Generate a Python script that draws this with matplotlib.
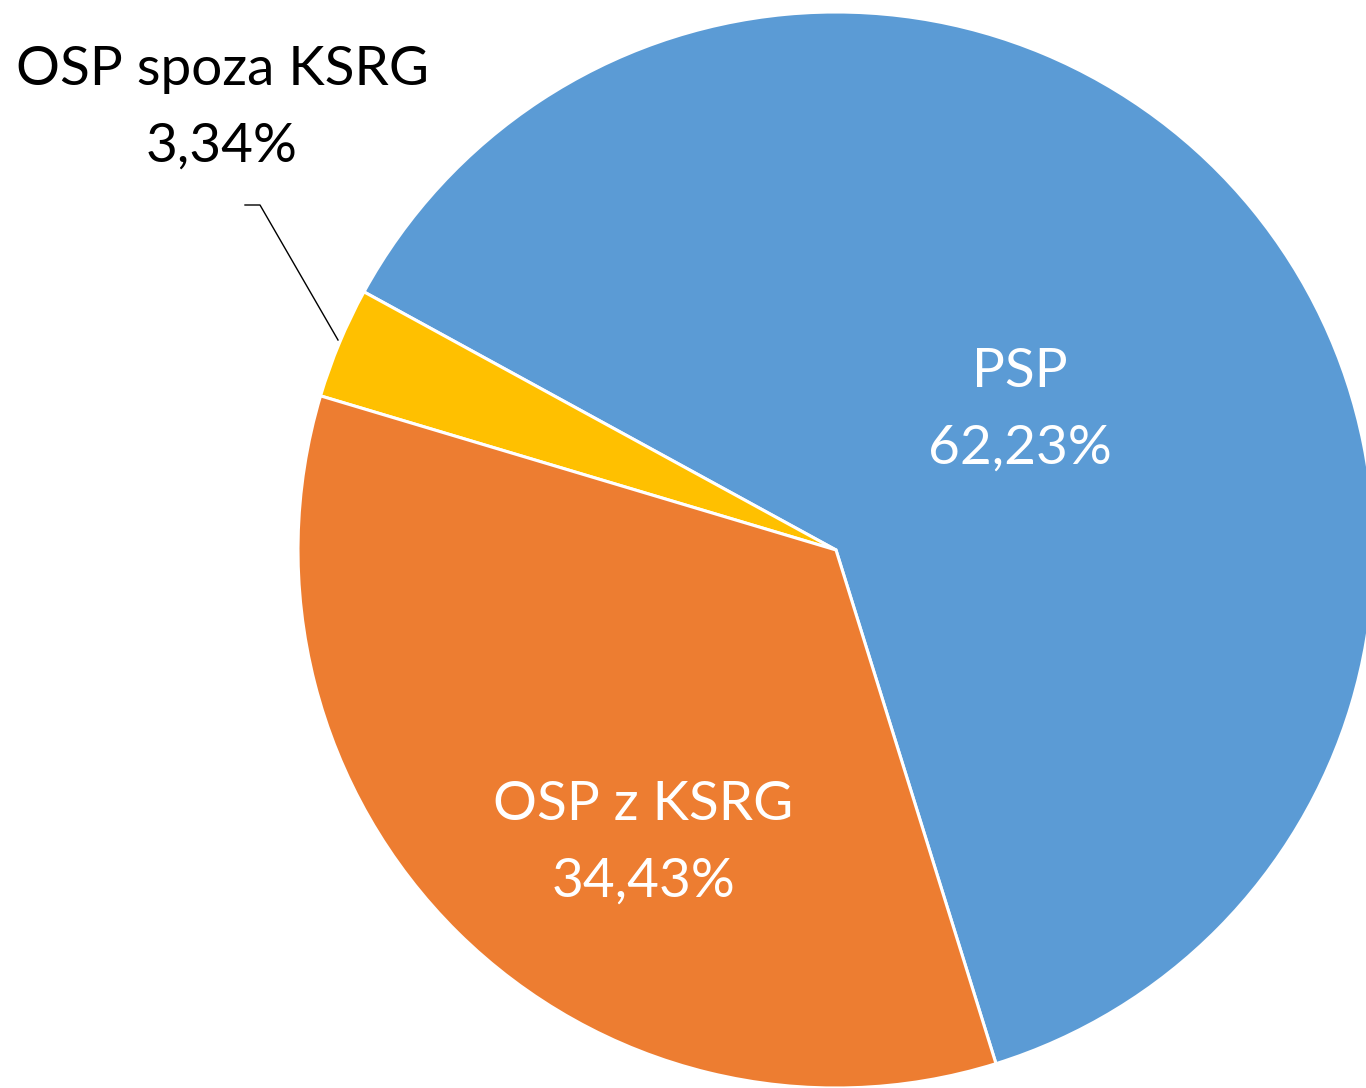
import matplotlib
matplotlib.use("Agg")
import matplotlib.pyplot as plt

labels = ["PSP", "OSP spoza KSRG", "OSP z KSRG"]
values = [62.23, 3.34, 34.43]
colors = ["#5B9BD5", "#FFC000", "#ED7D31"]
value_text = ["62,23%", "3,34%", "34,43%"]

W, H, DPI = 1366, 1088, 100
fig = plt.figure(figsize=(W / DPI, H / DPI), dpi=DPI)
ax = fig.add_axes([0, 0, 1, 1])

R = 538.0
cx, cy = 836.0, 550.0

def px(x, y):
    return ((x - cx) / R, (cy - y) / R)

ax.pie(values, colors=colors, startangle=-72.7, counterclock=True, radius=1.0,
       wedgeprops=dict(edgecolor="white", linewidth=2.2), center=(0, 0))
ax.set_xlim(-cx / R, (W - cx) / R)
ax.set_ylim(-(H - cy) / R, cy / R)
ax.set_aspect("equal")
ax.axis("off")

font = "Lato"
fs = 39.5
ls = 1.68
lx, ly = px(1020, 410)
ax.text(lx, ly, f"{labels[0]}\n{value_text[0]}", ha="center", va="center",
        color="white", fontsize=fs, family=font, linespacing=ls)
lx, ly = px(643, 843)
ax.text(lx, ly, f"{labels[2]}\n{value_text[2]}", ha="center", va="center",
        color="white", fontsize=fs, family=font, linespacing=ls)
lx, ly = px(222, 108)
ax.text(lx, ly, f"{labels[1]}\n{value_text[1]}", ha="center", va="center",
        color="black", fontsize=fs, family=font, linespacing=ls)

p1 = px(245, 205); p2 = px(260, 205); p3 = px(338, 340)
ax.plot([p1[0], p2[0], p3[0]], [p1[1], p2[1], p3[1]], color="black", lw=1.0)

fig.savefig("out.png", dpi=DPI)
